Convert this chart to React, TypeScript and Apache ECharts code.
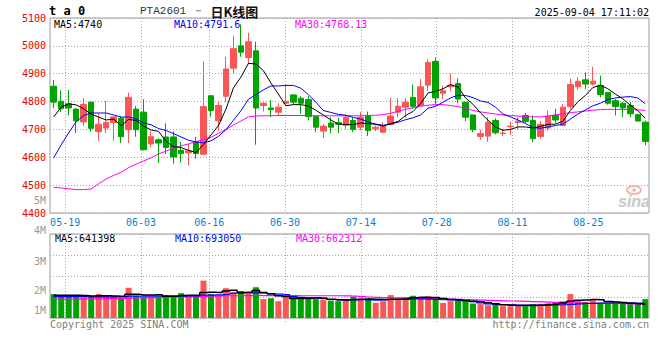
import React, { useEffect, useRef } from 'react';
import * as echarts from 'echarts';

// ---------- data ----------
const dates = [
  '05-15','05-16','05-19','05-20','05-21','05-22','05-23','05-26','05-27','05-28','05-29','05-30',
  '06-03','06-04','06-05','06-06','06-09','06-10','06-11','06-12','06-13','06-16','06-17','06-18','06-19','06-20',
  '06-23','06-24','06-25','06-26','06-27','06-30',
  '07-01','07-02','07-03','07-04','07-07','07-08','07-09','07-10','07-11','07-14','07-15','07-16','07-17','07-18',
  '07-21','07-22','07-23','07-24','07-25','07-28','07-29','07-30','07-31',
  '08-01','08-04','08-05','08-06','08-07','08-08','08-11','08-12','08-13','08-14','08-15','08-18','08-19','08-20','08-21','08-22',
  '08-25','08-26','08-27','08-28','08-29','09-01','09-02','09-03','09-04'
];
const tickDates = ['05-19', '06-03', '06-16', '06-30', '07-14', '07-28', '08-11', '08-25'];

const opens = [
  4855, 4801, 4792, 4773, 4727, 4798, 4692, 4705, 4725, 4740,
  4699, 4773, 4762, 4648, 4663, 4673, 4673, 4625, 4616, 4655,
  4611, 4821, 4731, 4819, 4920, 5000, 4958, 4982, 4786, 4777,
  4762, 4794, 4824, 4812, 4807, 4747, 4694, 4723, 4724, 4714,
  4732, 4708, 4750, 4702, 4690, 4718, 4762, 4780, 4815, 4786,
  4859, 4944, 4830, 4853, 4865, 4798, 4752, 4675, 4676, 4732,
  4685, 4710, 4725, 4750, 4732, 4675, 4705, 4751, 4714, 4782,
  4853, 4878, 4863, 4857, 4833, 4803, 4794, 4786, 4753, 4726
];
const closes = [
  4798, 4774, 4777, 4731, 4790, 4704, 4719, 4725, 4745, 4674,
  4815, 4699, 4627, 4674, 4651, 4635, 4601, 4613, 4623, 4613,
  4782, 4768, 4786, 4917, 4990, 4977, 5015, 4777, 4794, 4771,
  4780, 4801, 4798, 4794, 4746, 4708, 4712, 4708, 4719, 4744,
  4700, 4744, 4696, 4708, 4711, 4748, 4783, 4798, 4783, 4853,
  4940, 4813, 4839, 4859, 4809, 4744, 4699, 4685, 4726, 4688,
  4687, 4712, 4730, 4729, 4667, 4718, 4748, 4734, 4780, 4861,
  4873, 4863, 4873, 4825, 4794, 4782, 4777, 4756, 4730, 4657
];
const lows = [
  4777, 4763, 4750, 4687, 4713, 4692, 4658, 4687, 4660, 4651,
  4651, 4674, 4625, 4636, 4580, 4612, 4577, 4581, 4571, 4595,
  4608, 4746, 4694, 4798, 4901, 4961, 4934, 4645, 4765, 4744,
  4748, 4790, 4790, 4756, 4732, 4690, 4669, 4687, 4687, 4702,
  4690, 4696, 4676, 4694, 4688, 4714, 4744, 4742, 4774, 4785,
  4839, 4786, 4809, 4839, 4794, 4730, 4690, 4663, 4655, 4682,
  4676, 4681, 4699, 4723, 4655, 4667, 4696, 4723, 4711, 4774,
  4842, 4845, 4857, 4815, 4789, 4750, 4744, 4744, 4730, 4643
];
const highs = [
  4877, 4840, 4842, 4775, 4812, 4800, 4758, 4802, 4748, 4748,
  4832, 4784, 4808, 4695, 4668, 4722, 4693, 4655, 4648, 4673,
  4944, 4821, 4798, 4961, 5036, 5077, 5047, 5015, 4798, 4805,
  4794, 4863, 4826, 4819, 4819, 4747, 4720, 4744, 4742, 4753,
  4742, 4762, 4764, 4714, 4726, 4812, 4812, 4812, 4861, 4881,
  4952, 4958, 4857, 4901, 4883, 4798, 4752, 4699, 4744, 4740,
  4702, 4728, 4744, 4759, 4750, 4730, 4768, 4774, 4792, 4883,
  4887, 4905, 4925, 4893, 4833, 4809, 4798, 4798, 4756, 4732
];
const ma5 = [
  4745, 4780, 4792, 4788, 4774, 4755, 4744, 4734, 4737, 4713,
  4736, 4732, 4712, 4698, 4693, 4657, 4638, 4635, 4625, 4617,
  4646, 4680, 4714, 4773, 4849, 4888, 4937, 4935, 4911, 4867,
  4827, 4785, 4789, 4789, 4784, 4769, 4752, 4734, 4719, 4718,
  4717, 4723, 4721, 4718, 4712, 4721, 4729, 4750, 4765, 4793,
  4831, 4837, 4846, 4861, 4852, 4813, 4790, 4759, 4733, 4708,
  4697, 4700, 4709, 4709, 4705, 4711, 4718, 4719, 4729, 4768,
  4799, 4822, 4850, 4859, 4846, 4827, 4810, 4787, 4768, 4740
];
const ma10 = [
  4598, 4645, 4688, 4728, 4750, 4759, 4759, 4759, 4752, 4744,
  4745, 4738, 4723, 4717, 4703, 4696, 4685, 4673, 4661, 4655,
  4652, 4659, 4675, 4699, 4733, 4767, 4808, 4825, 4842, 4856,
  4856, 4858, 4858, 4848, 4825, 4798, 4768, 4761, 4754, 4751,
  4743, 4737, 4727, 4719, 4715, 4719, 4726, 4735, 4742, 4752,
  4776, 4783, 4798, 4813, 4823, 4822, 4814, 4802, 4797, 4780,
  4755, 4745, 4734, 4721, 4707, 4704, 4709, 4714, 4719, 4737,
  4755, 4770, 4785, 4794, 4807, 4813, 4816, 4818, 4813, 4792
];
const ma30 = [
  4492, 4490, 4487, 4484, 4484, 4486, 4505, 4522, 4535, 4546,
  4563, 4575, 4587, 4598, 4612, 4622, 4633, 4641, 4648, 4656,
  4663, 4672, 4686, 4700, 4716, 4730, 4745, 4748, 4749, 4749,
  4750, 4750, 4750, 4750, 4750, 4749, 4749, 4749, 4749, 4749,
  4749, 4749, 4750, 4751, 4753, 4758, 4765, 4772, 4778, 4783,
  4787, 4789, 4789, 4786, 4782, 4776, 4768, 4763, 4759, 4755,
  4752, 4750, 4748, 4746, 4745, 4745, 4748, 4752, 4756, 4760,
  4763, 4766, 4769, 4771, 4772, 4772, 4772, 4771, 4770, 4768
];
// volume in millions of lots
const volumes = [
  1.14, 1.06, 1.09, 1.09, 0.98, 1.01, 1.14, 1.09, 1.01, 0.96,
  1.44, 1.06, 1.01, 1.01, 1.01, 1.09, 1.06, 1.18, 1.06, 1.01,
  1.78, 1.14, 1.06, 1.42, 1.22, 1.28, 1.17, 1.47, 0.90, 0.94,
  0.80, 0.99, 1.04, 0.90, 0.96, 0.90, 0.88, 0.83, 0.80, 0.88,
  1.01, 0.93, 0.93, 0.72, 0.80, 1.09, 0.90, 0.98, 1.06, 0.93,
  1.04, 0.90, 0.72, 0.80, 0.90, 0.80, 0.69, 0.66, 0.61, 0.64,
  0.56, 0.56, 0.61, 0.56, 0.66, 0.66, 0.69, 0.72, 0.80, 1.14,
  0.85, 0.77, 0.85, 0.72, 0.72, 0.72, 0.69, 0.66, 0.66, 0.90
];
const volMa5 = [
  1.08, 1.08, 1.08, 1.08, 1.07, 1.05, 1.06, 1.06, 1.05, 1.04,
  1.13, 1.13, 1.10, 1.10, 1.11, 1.04, 1.04, 1.07, 1.08, 1.08,
  1.22, 1.23, 1.21, 1.28, 1.32, 1.22, 1.23, 1.31, 1.21, 1.15,
  1.06, 1.02, 0.93, 0.93, 0.94, 0.96, 0.94, 0.89, 0.87, 0.86,
  0.88, 0.89, 0.91, 0.89, 0.88, 0.89, 0.89, 0.90, 0.97, 0.99,
  0.98, 0.98, 0.93, 0.88, 0.87, 0.82, 0.78, 0.77, 0.73, 0.68,
  0.63, 0.61, 0.60, 0.59, 0.59, 0.61, 0.64, 0.66, 0.71, 0.80,
  0.84, 0.86, 0.88, 0.87, 0.78, 0.76, 0.74, 0.70, 0.68, 0.66
];
const volMa10 = [
  1.02, 1.02, 1.02, 1.02, 1.02, 1.01, 1.01, 1.01, 1.01, 1.01,
  1.04, 1.04, 1.04, 1.04, 1.04, 1.04, 1.04, 1.04, 1.05, 1.05,
  1.09, 1.09, 1.10, 1.12, 1.18, 1.20, 1.20, 1.20, 1.19, 1.15,
  1.14, 1.12, 1.02, 0.98, 0.96, 0.95, 0.93, 0.88, 0.86, 0.86,
  0.86, 0.87, 0.86, 0.85, 0.86, 0.88, 0.89, 0.90, 0.91, 0.91,
  0.90, 0.89, 0.87, 0.86, 0.85, 0.84, 0.80, 0.72, 0.67, 0.65,
  0.64, 0.63, 0.62, 0.62, 0.62, 0.61, 0.61, 0.62, 0.63, 0.65,
  0.67, 0.69, 0.70, 0.71, 0.72, 0.72, 0.72, 0.72, 0.71, 0.69
];
const volMa30 = [
  0.90, 0.90, 0.90, 0.90, 0.91, 0.91, 0.91, 0.92, 0.92, 0.93,
  0.95, 0.96, 0.96, 0.97, 0.98, 0.99, 1.00, 1.01, 1.01, 1.02,
  1.03, 1.04, 1.05, 1.06, 1.06, 1.07, 1.07, 1.08, 1.07, 1.07,
  1.07, 1.07, 1.07, 1.06, 1.06, 1.06, 1.06, 1.06, 1.06, 1.05,
  1.04, 1.02, 1.00, 0.98, 0.97, 0.96, 0.96, 0.96, 0.95, 0.95,
  0.94, 0.93, 0.91, 0.90, 0.89, 0.88, 0.86, 0.85, 0.84, 0.83,
  0.82, 0.81, 0.80, 0.79, 0.78, 0.77, 0.76, 0.74, 0.73, 0.72,
  0.72, 0.71, 0.70, 0.70, 0.69, 0.69, 0.68, 0.67, 0.67, 0.66
];
const volTickLabels = ['4M', '3M', '2M', '1M'];
const priceLegend = ['MA5:4740', 'MA10:4791.6', 'MA30:4768.13'];
const volLegend = ['MA5:641398', 'MA10:693050', 'MA30:662312'];

// ---------- styles ----------
const RED = '#fb5656';
const GREEN = '#00a400';
const MONO = '"DejaVu Sans Mono", monospace';
const GRID_LINE = { color: '#a8a8a8', type: [1, 2] as any, width: 1 };
const BORDER = '#9c9c9c';

export default function App() {
  const ref = useRef<HTMLDivElement>(null);

  useEffect(() => {
    if (!ref.current) return;
    const chart = echarts.init(ref.current, undefined, { renderer: 'svg' });
    const tickSet = new Set(tickDates);
    const showTick = (_i: number, v: string) => tickSet.has(v);

    const candleData = opens.map((o, i) => [o, closes[i], lows[i], highs[i]]);
    const volData = volumes.map((v, i) => ({
      value: v,
      itemStyle: { color: closes[i] > opens[i] ? RED : GREEN },
    }));

    const txt = (text: string, x: number, y: number, fill: string, align = 'left', font = `10px ${MONO}`) => ({
      type: 'text',
      x,
      y,
      silent: true,
      style: { text, fill, font, textAlign: align, textVerticalAlign: 'middle' },
    });

    const legendColors = ['#000000', '#0000ff', '#ff00ff'];
    const legendX = [54, 174, 295];
    const volLabelY = [230.7, 261, 290.7, 310.3];

    const option: any = {
      animation: false,
      backgroundColor: '#ffffff',
      grid: [
        { left: 50, width: 599, top: 18, height: 195, show: true, borderColor: BORDER, borderWidth: 1 },
        { left: 50, width: 599, top: 234, height: 84, show: true, borderColor: BORDER, borderWidth: 1 },
      ],
      xAxis: [
        { type: 'category', gridIndex: 0, data: dates, boundaryGap: true, show: false },
        {
          type: 'category', gridIndex: 0, data: dates, boundaryGap: false, position: 'bottom',
          axisLine: { show: false }, axisTick: { show: false },
          axisLabel: { interval: showTick, color: '#0a7fd2', fontSize: 10, fontFamily: MONO, margin: 4 },
          splitLine: { show: true, interval: showTick, lineStyle: GRID_LINE },
        },
        { type: 'category', gridIndex: 1, data: dates, boundaryGap: true, show: false },
        {
          type: 'category', gridIndex: 1, data: dates, boundaryGap: false, position: 'bottom',
          axisLine: { show: false },
          axisTick: { show: true, interval: showTick, length: 5, lineStyle: GRID_LINE },
          axisLabel: { show: false },
          splitLine: { show: true, interval: showTick, lineStyle: GRID_LINE },
        },
      ],
      yAxis: [
        {
          type: 'value', gridIndex: 0, min: 4400, max: 5100, interval: 100, scale: false,
          axisLine: { show: false }, axisTick: { show: false },
          axisLabel: {
            color: '#e60000', fontSize: 10, fontFamily: MONO, margin: 4, padding: [0, 0, 3, 0],
            formatter: (v: number) => String(v),
          },
          splitLine: { show: true, lineStyle: GRID_LINE },
        },
        {
          type: 'value', gridIndex: 1, min: 0, max: 4, interval: 1,
          axisLine: { show: false }, axisTick: { show: false }, axisLabel: { show: false },
          splitLine: { show: true, lineStyle: GRID_LINE },
        },
      ],
      series: [
        {
          type: 'candlestick', xAxisIndex: 0, yAxisIndex: 0, data: candleData, barWidth: 6, z: 2,
          itemStyle: { color: RED, color0: GREEN, borderColor: RED, borderColor0: GREEN, borderWidth: 1 },
        },
        { type: 'line', xAxisIndex: 0, yAxisIndex: 0, data: ma30, showSymbol: false, z: 3, lineStyle: { color: '#ff00ff', width: 1 } },
        { type: 'line', xAxisIndex: 0, yAxisIndex: 0, data: ma10, showSymbol: false, z: 3, lineStyle: { color: '#0000ff', width: 1 } },
        { type: 'line', xAxisIndex: 0, yAxisIndex: 0, data: ma5, showSymbol: false, z: 3, lineStyle: { color: '#000000', width: 1 } },
        { type: 'bar', xAxisIndex: 2, yAxisIndex: 1, data: volData, barWidth: 6, z: 2 },
        { type: 'line', xAxisIndex: 2, yAxisIndex: 1, data: volMa30, step: 'middle', showSymbol: false, z: 3, lineStyle: { color: '#ff00ff', width: 1.2 } },
        { type: 'line', xAxisIndex: 2, yAxisIndex: 1, data: volMa10, step: 'middle', showSymbol: false, z: 3, lineStyle: { color: '#0000ff', width: 1.2 } },
        { type: 'line', xAxisIndex: 2, yAxisIndex: 1, data: volMa5, step: 'middle', showSymbol: false, z: 4, lineStyle: { color: '#000000', width: 1.5 } },
      ],
      graphic: [
        txt('t a 0', 49, 11, '#000000', 'left', `bold 12px ${MONO}`),
        {
          type: 'text', x: 140, y: 11, silent: true,
          style: {
            text: '{a|PTA2601 － }{b|日K线图}',
            textVerticalAlign: 'middle',
            rich: {
              a: { font: `11px "Liberation Mono", monospace`, fill: '#333333' },
              b: { font: `bold 13px "Noto Sans CJK SC", sans-serif`, fill: '#111111' },
            },
          },
        },
        txt('2025-09-04 17:11:02', 649, 12, '#000000', 'right'),
        ...priceLegend.map((t, i) => txt(t, legendX[i], 24, legendColors[i])),
        ...volLegend.map((t, i) => txt(t, legendX[i] + 1, 238.7, legendColors[i])),
        txt('5M', 46, 200.7, '#999999', 'right'),
        ...volTickLabels.map((t, i) => txt(t, 46, volLabelY[i], '#999999', 'right')),
        txt('Copyright 2025 SINA.COM', 50, 324, '#808080'),
        txt('http://finance.sina.com.cn', 649, 324, '#808080', 'right'),
        {
          type: 'ellipse', silent: true, z: 1,
          shape: { cx: 634, cy: 190, rx: 7, ry: 4 },
          style: { fill: 'none', stroke: '#f3b3b3', lineWidth: 2 },
        },
        { type: 'circle', silent: true, z: 1, shape: { cx: 634, cy: 190, r: 1.8 }, style: { fill: '#f3b3b3' } },
        txt('sina', 650, 201, '#c8c8c8', 'right', `italic bold 16px "Liberation Sans", sans-serif`),
      ],
    };

    chart.setOption(option);
    return () => chart.dispose();
  }, []);

  return (
    <div
      ref={ref}
      style={{ position: 'fixed', left: 0, top: 0, width: 660, height: 360, background: '#ffffff' }}
    />
  );
}
